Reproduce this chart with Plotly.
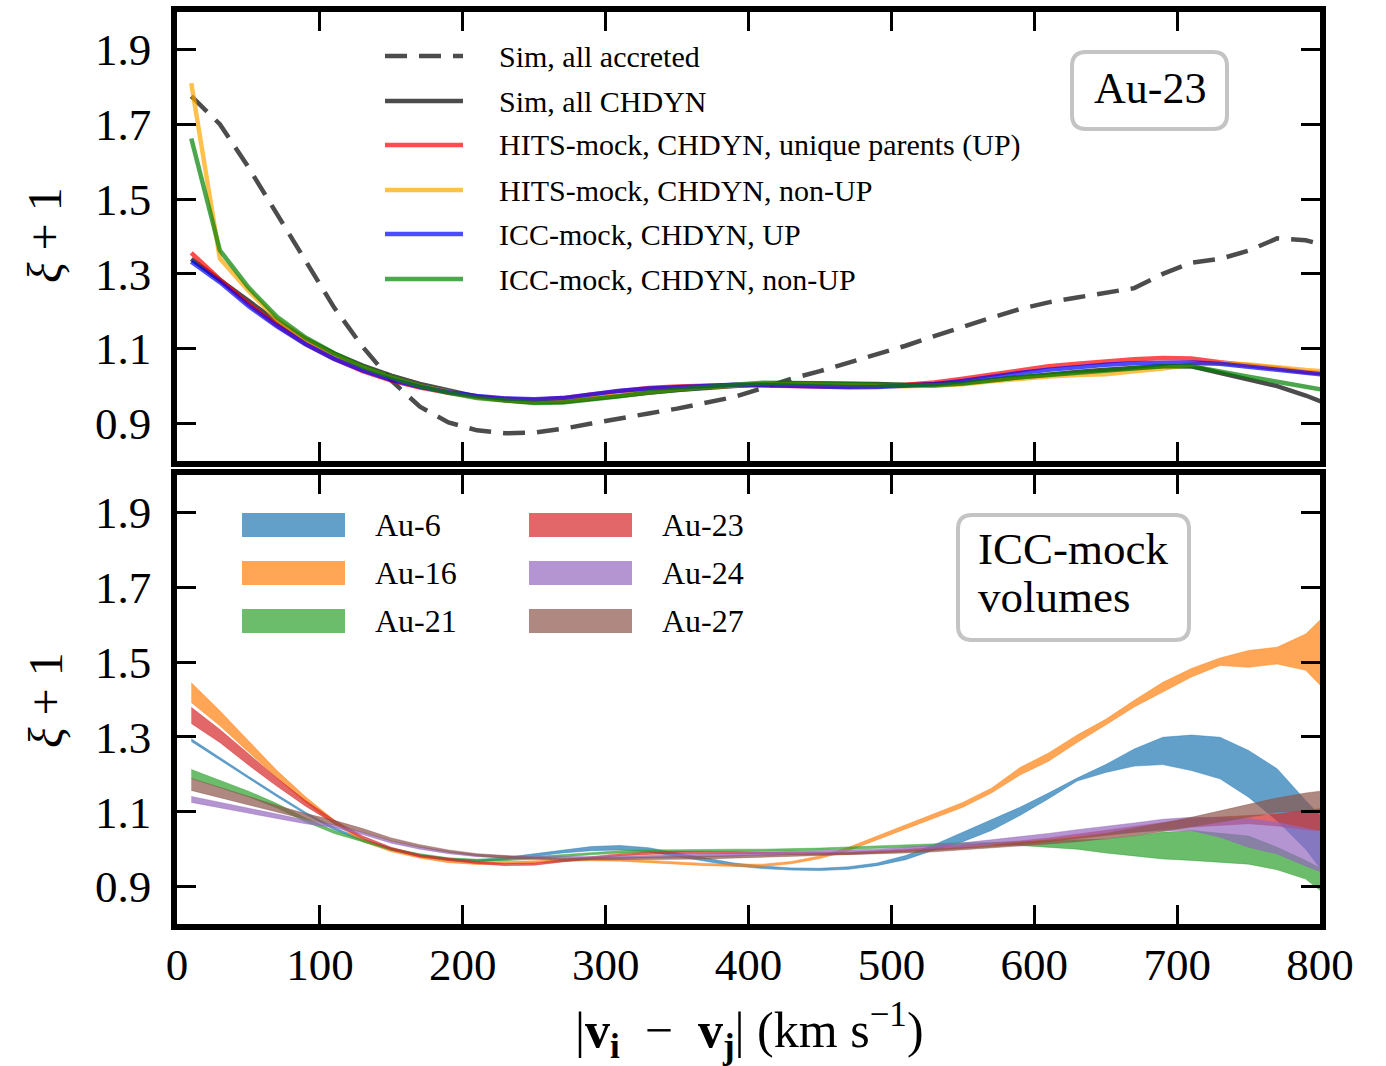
import plotly.graph_objects as go

# ---------------- data ----------------
X = [10, 30, 50, 70, 90, 110, 130, 150, 170, 190, 210, 230, 250, 270, 290, 310, 330, 350, 370, 390,
     410, 430, 450, 470, 490, 510, 530, 550, 570, 590, 610, 630, 650, 670, 690, 710, 730, 750, 770, 790, 810]

# top panel (Au-23)
sim_accreted = [1.775, 1.70, 1.585, 1.46, 1.335, 1.21, 1.105, 1.015, 0.945, 0.903, 0.882, 0.874, 0.876, 0.886,
                0.900, 0.915, 0.927, 0.940, 0.955, 0.971, 0.995, 1.02, 1.04, 1.062, 1.085, 1.108, 1.134, 1.160,
                1.183, 1.206, 1.224, 1.237, 1.248, 1.262, 1.300, 1.330, 1.340, 1.362, 1.395, 1.39, 1.37]
sim_chdyn = [1.34, 1.283, 1.228, 1.172, 1.126, 1.087, 1.055, 1.028, 1.006, 0.988, 0.972, 0.962, 0.957, 0.958,
             0.965, 0.974, 0.982, 0.99, 0.996, 1.002, 1.006, 1.008, 1.008, 1.008, 1.006, 1.003, 1.004, 1.008,
             1.016, 1.024, 1.032, 1.038, 1.044, 1.049, 1.053, 1.053, 1.035, 1.018, 1.0, 0.975, 0.945]
hits_up = [1.356, 1.285, 1.22, 1.163, 1.113, 1.073, 1.04, 1.015, 0.996, 0.982, 0.972, 0.966, 0.963, 0.968,
           0.978, 0.988, 0.995, 0.999, 1.002, 1.003, 1.002, 1.0, 0.999, 0.999, 1.0, 1.004, 1.01, 1.02,
           1.032, 1.043, 1.053, 1.06, 1.066, 1.072, 1.075, 1.074, 1.064, 1.057, 1.048, 1.038, 1.032]
hits_nonup = [1.81, 1.341, 1.255, 1.178, 1.125, 1.083, 1.05, 1.023, 1.0, 0.984, 0.97, 0.962, 0.958, 0.96,
              0.968, 0.978, 0.986, 0.992, 0.998, 1.003, 1.006, 1.006, 1.005, 1.004, 1.002, 1.0, 1.002, 1.005,
              1.013, 1.02, 1.026, 1.03, 1.032, 1.04, 1.047, 1.058, 1.062, 1.058, 1.05, 1.043, 1.038]
icc_up = [1.333, 1.278, 1.214, 1.160, 1.112, 1.073, 1.042, 1.017, 0.998, 0.984, 0.974, 0.967, 0.965, 0.968,
          0.978, 0.988, 0.994, 0.998, 1.002, 1.004, 1.003, 1.0, 0.998, 0.997, 0.998, 1.0, 1.005, 1.014,
          1.025, 1.035, 1.044, 1.051, 1.057, 1.061, 1.063, 1.063, 1.06, 1.052, 1.044, 1.033, 1.028]
icc_nonup = [1.662, 1.363, 1.264, 1.185, 1.13, 1.088, 1.052, 1.024, 1.0, 0.982, 0.968, 0.96, 0.955, 0.956,
             0.963, 0.973, 0.983, 0.991, 0.998, 1.004, 1.009, 1.01, 1.008, 1.006, 1.004, 1.002, 1.002, 1.007,
             1.016, 1.024, 1.03, 1.035, 1.043, 1.048, 1.053, 1.053, 1.038, 1.025, 1.012, 0.997, 0.985]

# bottom panel (ICC-mock volumes): upper / lower band edges
au6_hi = [1.295, 1.244, 1.195, 1.146, 1.099, 1.058, 1.027, 1.003, 0.986, 0.975, 0.972, 0.978, 0.988, 0.998,
          1.007, 1.01, 1.004, 0.99, 0.976, 0.963, 0.955, 0.95, 0.949, 0.953, 0.963, 0.983, 1.012, 1.045,
          1.078, 1.112, 1.15, 1.19, 1.226, 1.268, 1.299, 1.305, 1.299, 1.264, 1.215, 1.13, 1.05]
au6_lo = [1.288, 1.238, 1.189, 1.14, 1.093, 1.052, 1.021, 0.997, 0.98, 0.969, 0.966, 0.972, 0.981, 0.99,
          0.996, 0.998, 0.993, 0.98, 0.966, 0.955, 0.948, 0.944, 0.943, 0.946, 0.956, 0.972, 0.998, 1.02,
          1.05, 1.09, 1.135, 1.182, 1.205, 1.222, 1.226, 1.21, 1.188, 1.139, 1.076, 1.0, 0.9]
au16_hi = [1.445, 1.37, 1.29, 1.21, 1.14, 1.078, 1.027, 1.0, 0.983, 0.97, 0.965, 0.966, 0.969, 0.973,
           0.975, 0.974, 0.97, 0.965, 0.962, 0.96, 0.96, 0.967, 0.982, 1.005, 1.035, 1.064, 1.093, 1.125,
           1.163, 1.218, 1.257, 1.305, 1.347, 1.398, 1.446, 1.483, 1.511, 1.531, 1.54, 1.575, 1.65]
au16_lo = [1.392, 1.33, 1.26, 1.19, 1.125, 1.068, 1.02, 0.993, 0.976, 0.964, 0.959, 0.96, 0.963, 0.967,
           0.969, 0.968, 0.964, 0.959, 0.956, 0.954, 0.954, 0.961, 0.975, 0.996, 1.025, 1.054, 1.082, 1.112,
           1.15, 1.198, 1.235, 1.285, 1.332, 1.38, 1.42, 1.46, 1.491, 1.486, 1.495, 1.478, 1.40]
au21_hi = [1.213, 1.185, 1.155, 1.122, 1.083, 1.05, 1.025, 1.003, 0.988, 0.977, 0.973, 0.975, 0.98, 0.986,
           0.991, 0.996, 0.998, 0.999, 1.0, 1.0, 1.0, 1.001, 1.003, 1.006, 1.009, 1.012, 1.015, 1.017,
           1.018, 1.02, 1.022, 1.024, 1.027, 1.035, 1.045, 1.05, 1.043, 1.035, 1.005, 0.97, 0.93]
au21_lo = [1.189, 1.165, 1.14, 1.11, 1.073, 1.042, 1.019, 0.997, 0.982, 0.971, 0.967, 0.969, 0.974, 0.98,
           0.985, 0.99, 0.992, 0.993, 0.994, 0.994, 0.994, 0.995, 0.997, 1.0, 1.003, 1.006, 1.009, 1.011,
           1.013, 1.01, 1.005, 1.0, 0.99, 0.982, 0.974, 0.97, 0.966, 0.96, 0.945, 0.92, 0.86]
au23_hi = [1.379, 1.32, 1.255, 1.19, 1.13, 1.078, 1.035, 1.005, 0.985, 0.975, 0.967, 0.962, 0.963, 0.972,
           0.981, 0.988, 0.992, 0.994, 0.994, 0.993, 0.992, 0.991, 0.991, 0.992, 0.995, 1.0, 1.005, 1.01,
           1.015, 1.022, 1.03, 1.04, 1.05, 1.06, 1.072, 1.081, 1.086, 1.09, 1.094, 1.104, 1.112]
au23_lo = [1.336, 1.285, 1.225, 1.168, 1.115, 1.068, 1.028, 0.998, 0.979, 0.969, 0.961, 0.956, 0.957, 0.966,
           0.975, 0.982, 0.986, 0.988, 0.988, 0.987, 0.986, 0.985, 0.985, 0.986, 0.989, 0.993, 0.997, 1.002,
           1.006, 1.012, 1.02, 1.028, 1.036, 1.045, 1.053, 1.059, 1.064, 1.068, 1.062, 1.052, 1.048]
au24_hi = [1.141, 1.125, 1.108, 1.093, 1.078, 1.065, 1.045, 1.022, 1.006, 0.994, 0.986, 0.982, 0.981, 0.98,
           0.98, 0.981, 0.983, 0.985, 0.987, 0.988, 0.99, 0.992, 0.995, 0.998, 1.0, 1.005, 1.01, 1.017,
           1.025, 1.033, 1.042, 1.052, 1.06, 1.07, 1.08, 1.085, 1.085, 1.081, 1.072, 1.056, 1.04]
au24_lo = [1.125, 1.11, 1.095, 1.082, 1.068, 1.058, 1.039, 1.016, 1.0, 0.988, 0.98, 0.976, 0.975, 0.974,
           0.974, 0.975, 0.977, 0.979, 0.98, 0.981, 0.983, 0.985, 0.988, 0.99, 0.993, 0.997, 1.0, 1.006,
           1.012, 1.02, 1.028, 1.036, 1.041, 1.046, 1.05, 1.05, 1.032, 1.005, 0.987, 0.955, 0.925]
au27_hi = [1.189, 1.165, 1.14, 1.117, 1.095, 1.077, 1.055, 1.03, 1.012, 0.998, 0.988, 0.982, 0.978, 0.976,
           0.977, 0.977, 0.978, 0.979, 0.98, 0.982, 0.984, 0.986, 0.988, 0.99, 0.993, 0.996, 1.0, 1.005,
           1.01, 1.017, 1.025, 1.033, 1.042, 1.055, 1.07, 1.085, 1.102, 1.121, 1.137, 1.15, 1.16]
au27_lo = [1.157, 1.138, 1.118, 1.098, 1.08, 1.065, 1.045, 1.022, 1.005, 0.992, 0.982, 0.976, 0.972, 0.97,
           0.971, 0.971, 0.972, 0.973, 0.974, 0.976, 0.978, 0.98, 0.982, 0.984, 0.987, 0.99, 0.993, 0.998,
           1.002, 1.008, 1.014, 1.02, 1.027, 1.036, 1.047, 1.059, 1.072, 1.085, 1.099, 1.102, 1.105]

top_names = ["Sim, all accreted", "Sim, all CHDYN", "HITS-mock, CHDYN, unique parents (UP)",
             "HITS-mock, CHDYN, non-UP", "ICC-mock, CHDYN, UP", "ICC-mock, CHDYN, non-UP"]
top_series = [sim_accreted, sim_chdyn, hits_up, hits_nonup, icc_up, icc_nonup]
top_colors = ["rgba(0,0,0,0.7)", "rgba(0,0,0,0.7)", "rgba(255,0,0,0.7)", "rgba(255,165,0,0.7)",
              "rgba(0,0,255,0.7)", "rgba(0,128,0,0.7)"]
top_dash = ["22px,12px", "solid", "solid", "solid", "solid", "solid"]

band_names = ["Au-6", "Au-16", "Au-21", "Au-23", "Au-24", "Au-27"]
band_hi = [au6_hi, au16_hi, au21_hi, au23_hi, au24_hi, au27_hi]
band_lo = [au6_lo, au16_lo, au21_lo, au23_lo, au24_lo, au27_lo]
band_colors = ["rgba(31,119,180,0.7)", "rgba(255,127,14,0.7)", "rgba(44,160,44,0.7)",
               "rgba(214,39,40,0.7)", "rgba(148,103,189,0.7)", "rgba(140,86,75,0.7)"]

yticks = [0.9, 1.1, 1.3, 1.5, 1.7, 1.9]
xticks = [0, 100, 200, 300, 400, 500, 600, 700, 800]

# ---------------- figure ----------------
W, H = 1386, 1066
L, R, T, B = 177, 66, 12, 142
PW, PH = W - L - R, H - T - B


def px(xp):
    return (xp - L) / PW


def py(yp):
    return (H - B - yp) / PH


fig = go.Figure()

for name, ys, col, dash in zip(top_names, top_series, top_colors, top_dash):
    fig.add_trace(go.Scatter(x=X, y=ys, mode="lines", name=name, xaxis="x2", yaxis="y2",
                             line=dict(color=col, width=4.5, dash=dash), showlegend=False))

for name, hi, lo, col in zip(band_names, band_hi, band_lo, band_colors):
    fig.add_trace(go.Scatter(x=X, y=lo, mode="lines", line=dict(color=col, width=0.6),
                             xaxis="x", yaxis="y", showlegend=False, hoverinfo="skip"))
    fig.add_trace(go.Scatter(x=X, y=hi, mode="lines", name=name, line=dict(color=col, width=0.6),
                             fill="tonexty", fillcolor=col, xaxis="x", yaxis="y", showlegend=False))

FONT = "Liberation Serif"
tickfont = dict(family=FONT, size=45, color="black")
axis_common = dict(showline=True, linewidth=5.5, linecolor="black", mirror="allticks",
                   ticks="inside", ticklen=19, tickwidth=2.5, tickcolor="black",
                   showgrid=False, zeroline=False, tickfont=tickfont, automargin=False)

fig.update_layout(
    width=W, height=H, margin=dict(l=L, r=R, t=T, b=B, autoexpand=False),
    paper_bgcolor="white", plot_bgcolor="white",
    xaxis=dict(domain=[0, 1], anchor="y", range=[0, 800], tickvals=xticks,
               ticktext=[str(v) for v in xticks], ticklabelstandoff=-4, **axis_common),
    xaxis2=dict(domain=[0, 1], anchor="y2", range=[0, 800], tickvals=xticks, matches="x",
                showticklabels=False, **axis_common),
    yaxis=dict(domain=[0, 0.4923], anchor="x", range=[0.8, 2.0], tickvals=yticks,
               ticktext=["%.1f" % v for v in yticks], ticklabelstandoff=11, **axis_common),
    yaxis2=dict(domain=[0.5077, 1], anchor="x2", range=[0.8, 2.0], tickvals=yticks,
                ticktext=["%.1f" % v for v in yticks], ticklabelstandoff=11, **axis_common),
)

shapes = []
annots = []

# top legend (manual)
leg_y = [56, 101, 145, 190, 234, 279]
for name, col, dash, yy in zip(top_names, top_colors, top_dash, leg_y):
    shapes.append(dict(type="line", xref="paper", yref="paper", x0=px(385), x1=px(463),
                       y0=py(yy), y1=py(yy), line=dict(color=col, width=4.5, dash=dash)))
    annots.append(dict(xref="paper", yref="paper", x=px(497), y=py(yy), text=name, showarrow=False,
                       xanchor="left", yanchor="middle", font=dict(family=FONT, size=30, color="black")))

# bottom legend (manual patches)
leg2 = [(242, 345, 373, 525), (242, 345, 373, 573), (242, 345, 373, 621),
        (529, 632, 660, 525), (529, 632, 660, 573), (529, 632, 660, 621)]
for name, col, (x0, x1, xt, yy) in zip(band_names, band_colors, leg2):
    shapes.append(dict(type="rect", xref="paper", yref="paper", x0=px(x0), x1=px(x1),
                       y0=py(yy + 12), y1=py(yy - 12), fillcolor=col, line=dict(width=0)))
    annots.append(dict(xref="paper", yref="paper", x=px(xt), y=py(yy), text=name, showarrow=False,
                       xanchor="left", yanchor="middle", font=dict(family=FONT, size=32, color="black")))


def rounded_box(x0, y0, x1, y1, r):
    p = ("M {a},{b} L {c},{b} Q {d},{b} {d},{e} L {d},{f} Q {d},{g} {c},{g} "
         "L {a},{g} Q {h},{g} {h},{f} L {h},{e} Q {h},{b} {a},{b} Z").format(
        a=px(x0 + r), b=py(y0), c=px(x1 - r), d=px(x1), e=py(y0 + r), f=py(y1 - r), g=py(y1), h=px(x0))
    return dict(type="path", xref="paper", yref="paper", path=p,
                line=dict(color="#c4c4c4", width=4), fillcolor="rgba(255,255,255,0.85)")


shapes.append(rounded_box(1072, 52, 1227, 129, 14))
shapes.append(rounded_box(958, 515, 1189, 640, 14))
annots.append(dict(xref="paper", yref="paper", x=px(1150), y=py(89), text="Au-23", showarrow=False,
                   xanchor="center", yanchor="middle", font=dict(family=FONT, size=44, color="black")))
for txt, yy in (("ICC-mock", 549), ("volumes", 597)):
    annots.append(dict(xref="paper", yref="paper", x=px(976), y=py(yy), text=txt,
                       showarrow=False, xanchor="left", yanchor="middle",
                       font=dict(family=FONT, size=45, color="black")))

# axis titles
for yc in (235, 700):
    annots.append(dict(xref="paper", yref="paper", x=px(45), y=py(yc), text="<i>ξ</i> + 1",
                       showarrow=False, textangle=-90, xanchor="center", yanchor="middle",
                       font=dict(family=FONT, size=48, color="black")))
annots.append(dict(xref="paper", yref="paper", x=px(749), y=py(1030),
                   text="|<b>v</b><sub><b>i</b></sub>  −  <b>v</b><sub><b>j</b></sub>| (km s<sup>−1</sup>)",
                   showarrow=False, xanchor="center", yanchor="middle",
                   font=dict(family=FONT, size=50, color="black")))

fig.update_layout(shapes=shapes, annotations=annots)
fig.write_html("out.html")
